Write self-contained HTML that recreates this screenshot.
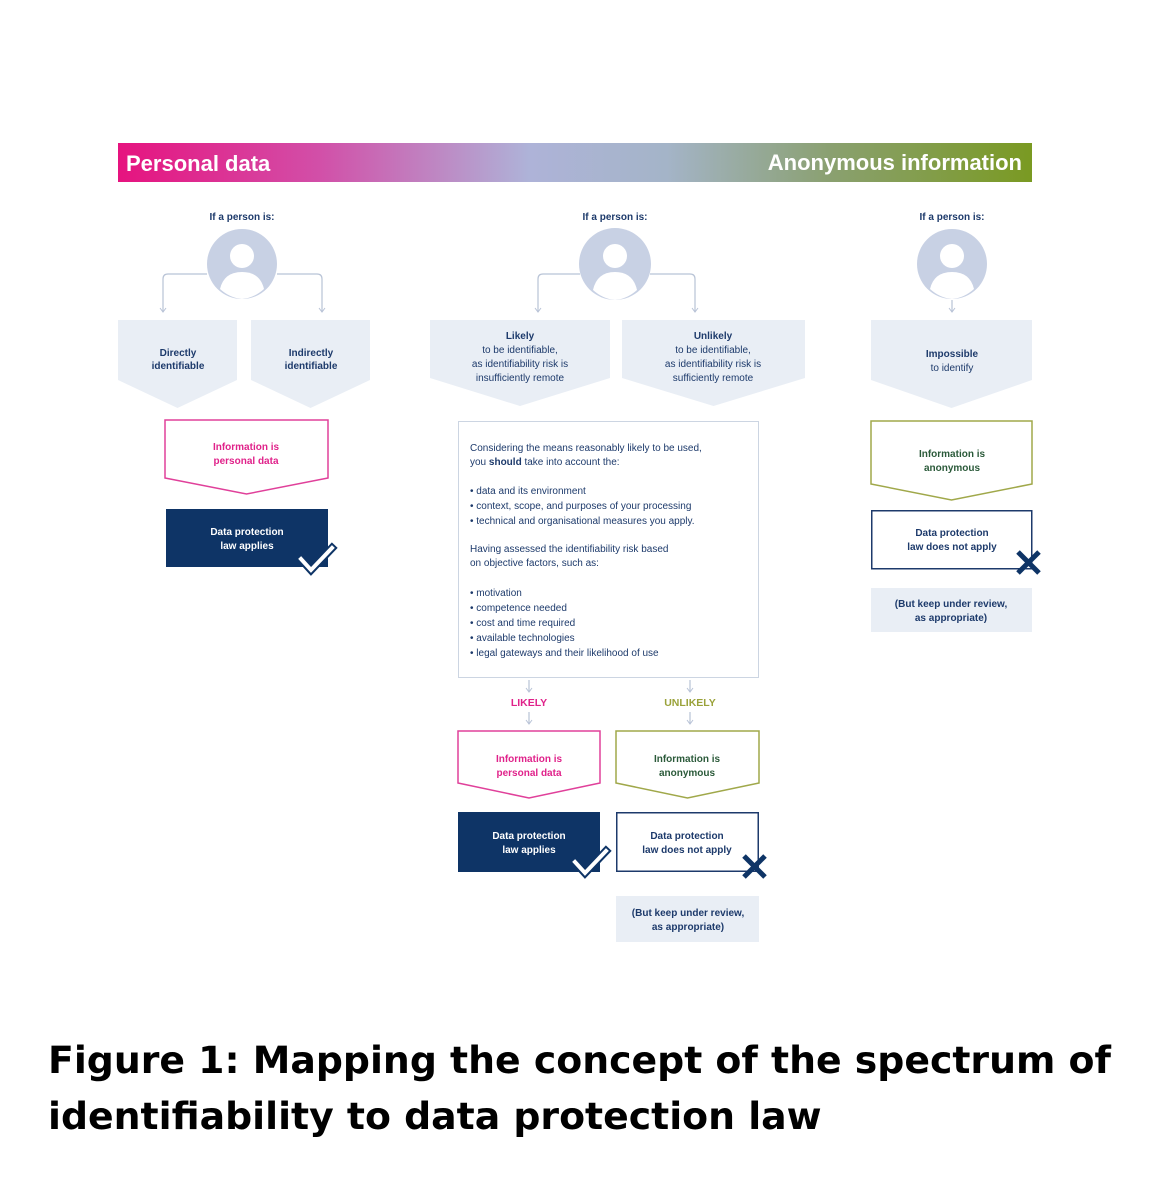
<!DOCTYPE html>
<html><head><meta charset="utf-8"><style>
html,body{margin:0;padding:0;background:#fff;}
body{width:1170px;height:1178px;position:relative;overflow:hidden;}
svg text{font-family:"Liberation Sans",sans-serif;}
.cap{position:absolute;left:48px;top:1032px;font-family:"DejaVu Sans","Liberation Sans",sans-serif;font-weight:bold;font-size:37.8px;line-height:56px;color:#000;letter-spacing:0px;white-space:nowrap;}
</style></head><body>
<svg width="1170" height="1178" viewBox="0 0 1170 1178" xmlns="http://www.w3.org/2000/svg">
<defs>
<linearGradient id="g" x1="0" x2="1" y1="0" y2="0">
<stop offset="0" stop-color="#e6137f"/>
<stop offset="0.22" stop-color="#d24fa8"/>
<stop offset="0.45" stop-color="#aeb3d8"/>
<stop offset="0.6" stop-color="#a4b4c8"/>
<stop offset="0.78" stop-color="#8aa070"/>
<stop offset="1" stop-color="#7a9a22"/>
</linearGradient>
<marker id="ar" markerWidth="8" markerHeight="8" refX="6" refY="4" orient="auto" markerUnits="userSpaceOnUse">
<path d="M2,1 L6,4 L2,7" fill="none" stroke="#b8c3d6" stroke-width="1"/>
</marker>
</defs>
<rect x="118" y="143" width="914" height="39" fill="url(#g)"/>
<text x="126" y="171" font-size="22" font-weight="bold" fill="#fff">Personal data</text>
<text x="1022" y="170" font-size="22" font-weight="bold" fill="#fff" text-anchor="end">Anonymous information</text>

<g font-size="10" font-weight="bold" fill="#1d3a6b" text-anchor="middle">
<text x="242" y="220">If a person is:</text>
<text x="615" y="220">If a person is:</text>
<text x="952" y="220">If a person is:</text>
</g>

<g fill="none" stroke="#b8c3d6" stroke-width="1.2" marker-end="url(#ar)">
<path d="M207,274 H168 Q163,274 163,279 V312"/>
<path d="M277,274 H317 Q322,274 322,279 V312"/>
<path d="M580,274 H543 Q538,274 538,279 V312"/>
<path d="M650,274 H690 Q695,274 695,279 V312"/>
<path d="M952,300 V312"/>
<path d="M529,680 V692"/>
<path d="M690,680 V692"/>
<path d="M529,712 V724"/>
<path d="M690,712 V724"/>
</g>

<g>
<circle cx="242" cy="264" r="35" fill="#c8d1e4"/>
<circle cx="242" cy="256" r="12" fill="#fff"/>
<path d="M220,289 Q224,272 242,272 Q260,272 264,289 Q254,298 242,299 Q230,298 220,289Z" fill="#fff"/>
<circle cx="615" cy="264" r="36" fill="#c8d1e4"/>
<circle cx="615" cy="256" r="12" fill="#fff"/>
<path d="M593,290 Q597,272 615,272 Q633,272 637,290 Q627,299 615,300 Q603,299 593,290Z" fill="#fff"/>
<circle cx="952" cy="264" r="35" fill="#c8d1e4"/>
<circle cx="952" cy="256" r="12" fill="#fff"/>
<path d="M930,289 Q934,272 952,272 Q970,272 974,289 Q964,298 952,299 Q940,298 930,289Z" fill="#fff"/>
</g>

<g fill="#e9eef5">
<path d="M118,320 H237 V380 L177.5,408 L118,380Z"/>
<path d="M251,320 H370 V380 L310.5,408 L251,380Z"/>
<path d="M430,320 H610 V378 L520,406 L430,378Z"/>
<path d="M622,320 H805 V378 L713.5,406 L622,378Z"/>
<path d="M871,320 H1032 V380 L951.5,408 L871,380Z"/>
</g>
<g font-size="10" fill="#1d3a6b" text-anchor="middle">
<text x="178" y="356" font-weight="bold">Directly</text>
<text x="178" y="369" font-weight="bold">identifiable</text>
<text x="311" y="356" font-weight="bold">Indirectly</text>
<text x="311" y="369" font-weight="bold">identifiable</text>
<text x="520" y="339" font-weight="bold">Likely</text>
<text x="520" y="353">to be identifiable,</text>
<text x="520" y="367">as identifiability risk is</text>
<text x="520" y="381">insufficiently remote</text>
<text x="713" y="339" font-weight="bold">Unlikely</text>
<text x="713" y="353">to be identifiable,</text>
<text x="713" y="367">as identifiability risk is</text>
<text x="713" y="381">sufficiently remote</text>
<text x="952" y="357" font-weight="bold">Impossible</text>
<text x="952" y="371">to identify</text>
</g>

<g fill="#fff" stroke-width="1.5">
<path d="M165,420 H328 V478 L246.5,494 L165,478Z" stroke="#e0409a"/>
<path d="M458,731 H600 V783 L529,798 L458,783Z" stroke="#e0409a"/>
<path d="M616,731 H759 V783 L687.5,798 L616,783Z" stroke="#a0a84a"/>
<path d="M871,421 H1032 V484 L951.5,500 L871,484Z" stroke="#a0a84a"/>
</g>
<g font-size="10" font-weight="bold" text-anchor="middle">
<text x="246" y="450" fill="#e0228a">Information is</text>
<text x="246" y="464" fill="#e0228a">personal data</text>
<text x="529" y="762" fill="#e0228a">Information is</text>
<text x="529" y="776" fill="#e0228a">personal data</text>
<text x="687" y="762" fill="#2b5a3a">Information is</text>
<text x="687" y="776" fill="#2b5a3a">anonymous</text>
<text x="952" y="457" fill="#2b5a3a">Information is</text>
<text x="952" y="471" fill="#2b5a3a">anonymous</text>
</g>

<rect x="166" y="509" width="162" height="58" fill="#0e3466"/>
<rect x="458" y="812" width="142" height="60" fill="#0e3466"/>
<rect x="616.75" y="812.75" width="141.5" height="58.5" fill="#fff" stroke="#1d3a6b" stroke-width="1.5"/>
<rect x="871.75" y="510.75" width="160" height="58" fill="#fff" stroke="#1d3a6b" stroke-width="1.5"/>
<g font-size="10" font-weight="bold" text-anchor="middle">
<text x="247" y="535" fill="#fff">Data protection</text>
<text x="247" y="549" fill="#fff">law applies</text>
<text x="529" y="839" fill="#fff">Data protection</text>
<text x="529" y="853" fill="#fff">law applies</text>
<text x="687" y="839" fill="#1d3a6b">Data protection</text>
<text x="687" y="853" fill="#1d3a6b">law does not apply</text>
<text x="952" y="536" fill="#1d3a6b">Data protection</text>
<text x="952" y="550" fill="#1d3a6b">law does not apply</text>
</g>
<g fill="none" stroke-linecap="square">
<polyline points="301,559 311,570 332,548" stroke="#0e3466" stroke-width="8"/>
<polyline points="301,559 311,570 332,548" stroke="#fff" stroke-width="4"/>
<polyline points="575,862 585,873 606,851" stroke="#0e3466" stroke-width="8"/>
<polyline points="575,862 585,873 606,851" stroke="#fff" stroke-width="4"/>
</g>
<g stroke="#0e3466" stroke-width="5">
<path d="M744,856 L765,877 M765,856 L744,877"/>
<path d="M1018,552 L1039,573 M1039,552 L1018,573"/>
</g>

<rect x="616" y="896" width="143" height="46" fill="#e9eef5"/>
<rect x="871" y="588" width="161" height="44" fill="#e9eef5"/>
<g font-size="10" font-weight="bold" fill="#1d3a6b" text-anchor="middle">
<text x="688" y="916">(But keep under review,</text>
<text x="688" y="930">as appropriate)</text>
<text x="951" y="607">(But keep under review,</text>
<text x="951" y="621">as appropriate)</text>
</g>

<rect x="458.5" y="421.5" width="300" height="256" fill="#fff" stroke="#ccd5e2" stroke-width="1"/>
<g font-size="10" fill="#1d3a6b">
<text x="470" y="451">Considering the means reasonably likely to be used,</text>
<text x="470" y="465">you <tspan font-weight="bold">should</tspan> take into account the:</text>
<text x="470" y="494">• data and its environment</text>
<text x="470" y="509">• context, scope, and purposes of your processing</text>
<text x="470" y="524">• technical and organisational measures you apply.</text>
<text x="470" y="552">Having assessed the identifiability risk based</text>
<text x="470" y="566">on objective factors, such as:</text>
<text x="470" y="596">• motivation</text>
<text x="470" y="611">• competence needed</text>
<text x="470" y="626">• cost and time required</text>
<text x="470" y="641">• available technologies</text>
<text x="470" y="656">• legal gateways and their likelihood of use</text>
</g>
<g font-size="10.5" font-weight="bold" text-anchor="middle">
<text x="529" y="706" fill="#e0228a">LIKELY</text>
<text x="690" y="706" fill="#9aa23a">UNLIKELY</text>
</g>
</svg>
<div class="cap">Figure 1: Mapping the concept of the spectrum of<br>identifiability to data protection law</div>
</body></html>
